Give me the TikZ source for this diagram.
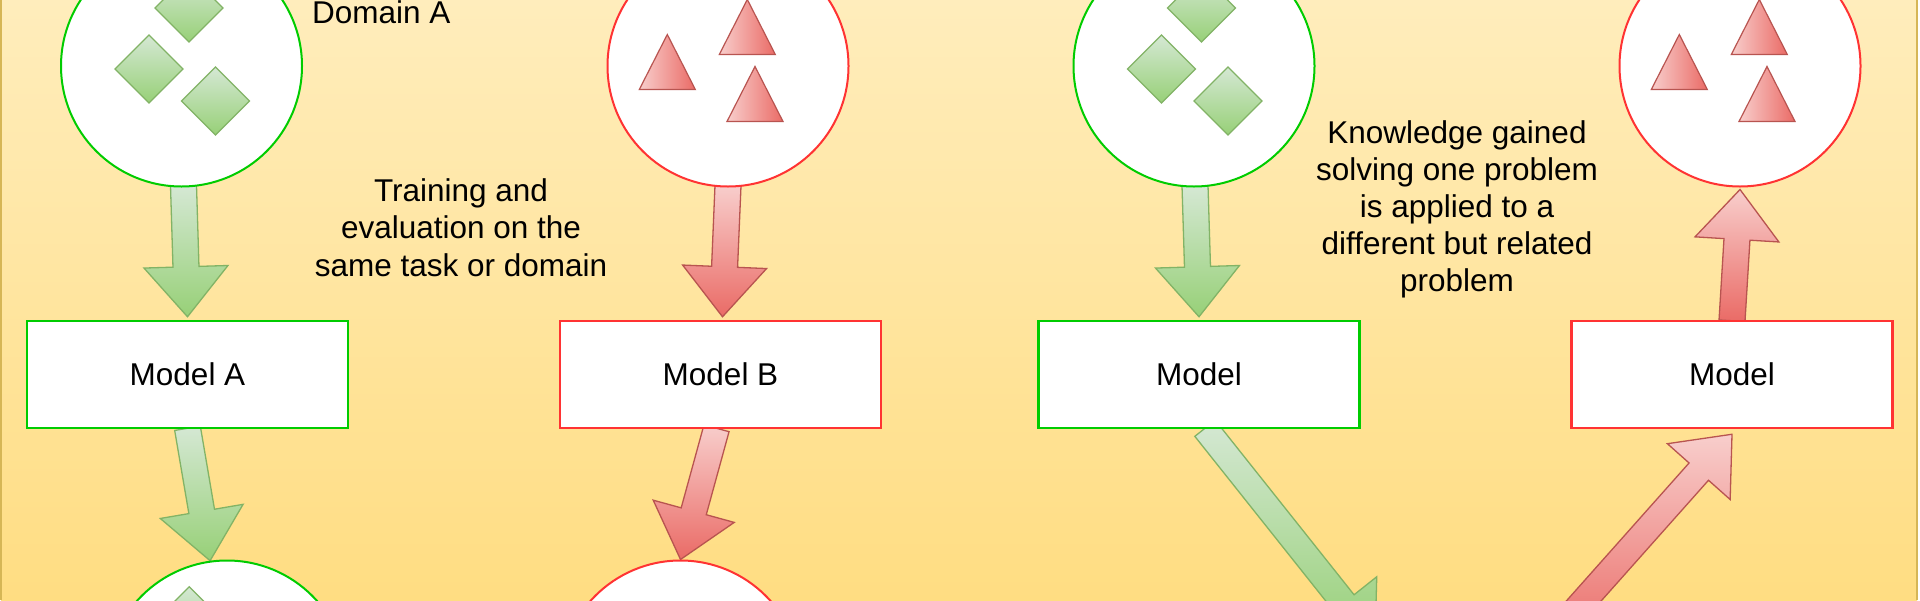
\documentclass[tikz,border=0pt]{standalone}
\usepackage{fontspec}
\setmainfont{Liberation Sans}
\usetikzlibrary{calc}
\pgfdeclarelayer{bglayer}
\pgfdeclarelayer{arrowlayer}
\pgfsetlayers{bglayer,arrowlayer,main}
\definecolor{bgtop}{RGB}{255,237,188}
\definecolor{bgbot}{RGB}{255,221,130}
\definecolor{framecol}{RGB}{214,182,86}
\definecolor{gline}{RGB}{0,204,0}
\definecolor{rline}{RGB}{255,51,51}
\definecolor{gfillA}{RGB}{213,232,212}
\definecolor{gfillB}{RGB}{151,208,119}
\definecolor{gstroke}{RGB}{130,179,102}
\definecolor{rfillA}{RGB}{248,206,204}
\definecolor{rfillB}{RGB}{234,107,102}
\definecolor{rstroke}{RGB}{184,84,80}
\tikzset{
  txt/.style={font=\fontsize{31.5}{37.2}\selectfont, text=black},
  dom/.style={circle, minimum size=241pt, inner sep=0pt, fill=white, line width=2pt},
  gdom/.style={dom, draw=gline},
  rdom/.style={dom, draw=rline},
  modelbox/.style={txt, rectangle, minimum width=321pt, minimum height=107pt, inner sep=0pt, fill=white, line width=2.5pt},
  gbox/.style={modelbox, draw=gline},
  rbox/.style={modelbox, draw=rline},
  gshape/.style={draw=gstroke, line width=1.2pt, top color=gfillA, bottom color=gfillB},
  rshape/.style={draw=rstroke, line width=1.2pt, left color=rfillA, right color=rfillB},
  garrow/.style={draw=gstroke, line width=1.3pt, top color=gfillA, bottom color=gfillB},
  rarrow/.style={draw=rstroke, line width=1.3pt, top color=rfillA, bottom color=rfillB},
  note/.style={txt, align=center, inner sep=0pt},
}
\newcommand{\blockarrow}[3]{%
  \coordinate (hb) at ($(#3)!50pt!(#2)$);
  \path[#1] ($(#2)!13pt!90:(#3)$) -- ($(hb)!13pt!90:(#3)$) -- ($(hb)!42pt!90:(#3)$)
    -- (#3) -- ($(hb)!42pt!-90:(#3)$) -- ($(hb)!13pt!-90:(#3)$) -- ($(#2)!13pt!-90:(#3)$) -- cycle;
}
\newcommand{\gdia}[3]{%
  \path[gshape, shift={(#1)}] (#2,#3-34) -- (#2+34,#3) -- (#2,#3+34) -- (#2-34,#3) -- cycle;
}
\newcommand{\rtri}[3]{%
  \path[rshape, shift={(#1)}] (#2,#3) -- (#2+28,#3+55) -- (#2-28,#3+55) -- cycle;
}
\begin{document}
\begin{tikzpicture}[x=1pt, y=-1pt]
  \useasboundingbox (0,0) rectangle (1920,600);
  \clip (0,0) rectangle (1920,600);
  \begin{pgfonlayer}{bglayer}
    \path[top color=bgtop, bottom color=bgbot] (1,0) rectangle (1917,600);
    \draw[framecol, line width=2pt] (1,0) -- (1,600) (1917,0) -- (1917,600);
  \end{pgfonlayer}

  % domains
  \node[gdom] (cA) at (181.5,66) {};
  \node[rdom] (cB) at (728,66) {};
  \node[gdom] (cC) at (1194,66) {};
  \node[rdom] (cD) at (1740,66) {};
  \node[gdom] (cA2) at (227,681) {};
  \node[rdom] (cB2) at (680.5,681) {};

  % models
  \node[gbox] (mA) at (187.5,374.5) {Model A};
  \node[rbox] (mB) at (720.5,374.5) {Model B};
  \node[gbox] (mC) at (1199,374.5) {Model};
  \node[rbox] (mD) at (1732,374.5) {Model};

  % texts
  \node[txt, anchor=base west, inner sep=0pt] (tDom) at (312,23) {Domain A};
  \node[note] (tTrain) at (461,231.5) {\strut Training and\\\strut evaluation on the\\\strut same task or domain};
  \node[note] (tKnow) at (1457,210) {\strut Knowledge gained\\\strut solving one problem\\\strut is applied to a\\\strut different but related\\\strut problem};

  % shapes inside domains
  \gdia{cA}{7.5}{-58}
  \gdia{cA}{-32.5}{3}
  \gdia{cA}{34}{35}
  \gdia{cC}{7.5}{-58}
  \gdia{cC}{-32.5}{3}
  \gdia{cC}{34}{35}
  \gdia{cA2}{-37.7}{-60.3}
  \rtri{cB}{-60.7}{-31.5}
  \rtri{cB}{19.3}{-66.5}
  \rtri{cB}{27}{0.5}
  \rtri{cD}{-60.7}{-31.5}
  \rtri{cD}{19.3}{-66.5}
  \rtri{cD}{27}{0.5}

  % arrow end points
  \coordinate (a1s) at ($(cA.south)+(2,-2)$);
  \coordinate (a1e) at ($(mA.north)+(0,-3)$);
  \coordinate (a2s) at ($(mA.south)+(0,-1)$);
  \coordinate (a2e) at (cA2.98);
  \coordinate (b1s) at ($(cB.south)+(0,-2)$);
  \coordinate (b1e) at ($(mB.north)+(2,-3)$);
  \coordinate (b2s) at ($(mB.south)+(-4,-1)$);
  \coordinate (b2e) at (cB2.north);
  \coordinate (c1s) at ($(cC.south)+(1,-2)$);
  \coordinate (c1e) at ($(mC.north)+(0,-3)$);
  \coordinate (c2s) at ($(mC.south)+(6,-1)$);
  \coordinate (c2e) at (1375,642);
  \coordinate (d1s) at ($(mD.north)+(0,1)$);
  \coordinate (d1e) at ($(cD.south)+(0,2)$);
  \coordinate (d2s) at (1549,640);
  \coordinate (d2e) at ($(mD.south)+(0,5)$);

  \begin{pgfonlayer}{arrowlayer}
    \blockarrow{garrow}{a1s}{a1e}
    \blockarrow{garrow}{a2s}{a2e}
    \blockarrow{rarrow}{b1s}{b1e}
    \blockarrow{rarrow}{b2s}{b2e}
    \blockarrow{garrow}{c1s}{c1e}
    \blockarrow{garrow}{c2s}{c2e}
    \blockarrow{rarrow}{d1s}{d1e}
    \blockarrow{rarrow}{d2s}{d2e}
  \end{pgfonlayer}
\end{tikzpicture}
\end{document}
